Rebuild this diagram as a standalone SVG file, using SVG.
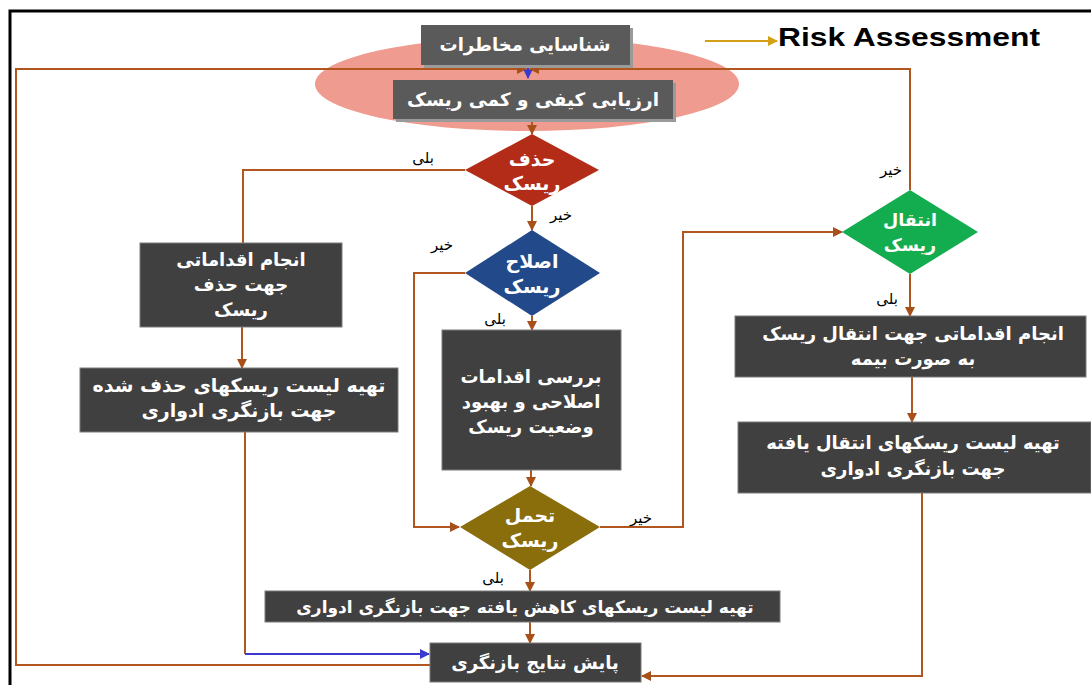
<svg xmlns="http://www.w3.org/2000/svg" width="1091" height="685" viewBox="0 0 1091 685">
<style>
.box{fill:#404040;stroke:#7a7a7a;stroke-width:1}
.gbox{fill:#5a5a5a}
.sh{fill:#9a9a9a}
.t{font-family:"DejaVu Sans",sans-serif;font-weight:bold;fill:#ffffff;text-anchor:middle}
.lbl{font-family:"DejaVu Sans",sans-serif;font-size:15px;fill:#000;text-anchor:middle}
.ln{fill:none;stroke:#B0561E;stroke-width:2}
.bl{fill:none;stroke:#3a3ad0;stroke-width:2}
</style>
<defs>
<marker id="ah" viewBox="0 0 10 10" refX="9" refY="5" markerWidth="5" markerHeight="5" orient="auto"><path d="M0,0 L10,5 L0,10 z" fill="#A8501A"/></marker>
<marker id="ahb" viewBox="0 0 10 10" refX="9" refY="5" markerWidth="5" markerHeight="5" orient="auto"><path d="M0,0 L10,5 L0,10 z" fill="#3a3ad0"/></marker>
<marker id="ahy" viewBox="0 0 10 10" refX="9" refY="5" markerWidth="5" markerHeight="5" orient="auto"><path d="M0,0 L10,5 L0,10 z" fill="#D4A017"/></marker>
</defs>
<rect x="0" y="0" width="1091" height="685" fill="#ffffff"/>
<path d="M10,685 L10,11 L1091,11" fill="none" stroke="#000" stroke-width="3"/>

<ellipse cx="527" cy="84" rx="212" ry="47" fill="#EF9B8F"/>

<g id="connectors">
<line class="bl" x1="528" y1="65" x2="528" y2="78" marker-end="url(#ahb)"/>
<path class="ln" d="M430,665 L16,665 L16,69 L526,69" marker-end="url(#ah)"/>
<path class="ln" d="M910,190 L910,69 L530,69" marker-end="url(#ah)"/>
<line x1="705" y1="41" x2="777" y2="41" stroke="#D4A017" stroke-width="2" marker-end="url(#ahy)"/>
<line class="ln" x1="532" y1="119" x2="532" y2="134" marker-end="url(#ah)"/>
<path class="ln" d="M465,170 L243,170 L243,243"/>
<line class="ln" x1="242" y1="327" x2="242" y2="368" marker-end="url(#ah)"/>
<path class="ln" d="M245,432 L245,654"/>
<line class="bl" x1="245" y1="654" x2="429" y2="654" marker-end="url(#ahb)"/>
<line class="ln" x1="532" y1="206" x2="532" y2="230" marker-end="url(#ah)"/>
<path class="ln" d="M465,273 L414,273 L414,527 L459,527" marker-end="url(#ah)"/>
<line class="ln" x1="532" y1="316" x2="532" y2="330" marker-end="url(#ah)"/>
<line class="ln" x1="531" y1="470" x2="531" y2="486" marker-end="url(#ah)"/>
<path class="ln" d="M600,527 L683,527 L683,232 L842,232" marker-end="url(#ah)"/>
<line class="ln" x1="530" y1="570" x2="530" y2="591" marker-end="url(#ah)"/>
<line class="ln" x1="530" y1="622" x2="530" y2="643" marker-end="url(#ah)"/>
<line class="ln" x1="910" y1="274" x2="910" y2="316" marker-end="url(#ah)"/>
<line class="ln" x1="912" y1="377" x2="912" y2="422" marker-end="url(#ah)"/>
<path class="ln" d="M922,493 L922,676 L642,676" marker-end="url(#ah)"/>
</g>

<g id="labels">
<text class="lbl" x="423" y="163">بلی</text>
<text class="lbl" x="561" y="220">خیر</text>
<text class="lbl" x="442" y="250">خیر</text>
<text class="lbl" x="495" y="324">بلی</text>
<text class="lbl" x="641" y="523">خیر</text>
<text class="lbl" x="493" y="583">بلی</text>
<text class="lbl" x="891" y="175">خیر</text>
<text class="lbl" x="887" y="304">بلی</text>
</g>

<g id="risk-assessment">
<text x="778" y="46" font-family="'Liberation Sans',Arial,sans-serif" font-weight="bold" font-size="25" fill="#000" textLength="262" lengthAdjust="spacingAndGlyphs">Risk Assessment</text>
</g>

<g id="n-identify">
<rect class="sh" x="424" y="28" width="209" height="40"/>
<rect class="gbox" x="421" y="25" width="209" height="40"/>
<text class="t" x="525" y="51" font-size="18">شناسایی مخاطرات</text>
</g>
<g id="n-evaluate">
<rect class="sh" x="396" y="83" width="280" height="39"/>
<rect class="gbox" x="393" y="80" width="280" height="39"/>
<text class="t" x="533" y="106" font-size="18.5">ارزیابی کیفی و کمی ریسک</text>
</g>

<g id="d-eliminate">
<polygon points="532,134 599,170 532,206 465,170" fill="#B22C18"/>
<text class="t" x="532" y="166" font-size="19">حذف</text>
<text class="t" x="532" y="190" font-size="19">ریسک</text>
</g>
<g id="n-elim-action">
<rect class="box" x="140" y="243" width="202" height="84"/>
<text class="t" x="241" y="266" font-size="18">انجام اقداماتی</text>
<text class="t" x="241" y="291" font-size="18">جهت حذف</text>
<text class="t" x="241" y="316" font-size="18">ریسک</text>
</g>
<g id="n-elim-list">
<rect class="box" x="80" y="368" width="318" height="64"/>
<text class="t" x="239" y="392" font-size="19">تهیه لیست ریسکهای حذف شده</text>
<text class="t" x="239" y="417" font-size="19">جهت بازنگری ادواری</text>
</g>

<g id="d-correct">
<polygon points="532,230 600,273 532,316 465,273" fill="#22498A"/>
<text class="t" x="532" y="268" font-size="19">اصلاح</text>
<text class="t" x="532" y="293" font-size="19">ریسک</text>
</g>
<g id="n-review">
<rect class="box" x="442" y="330" width="179" height="140"/>
<text class="t" x="531" y="383" font-size="18">بررسی اقدامات</text>
<text class="t" x="531" y="408" font-size="18">اصلاحی و بهبود</text>
<text class="t" x="531" y="433" font-size="18">وضعیت ریسک</text>
</g>

<g id="d-tolerate">
<polygon points="530,486 600,527 530,570 460,527" fill="#8A6E0C"/>
<text class="t" x="530" y="522" font-size="19">تحمل</text>
<text class="t" x="530" y="547" font-size="19">ریسک</text>
</g>
<g id="n-reduce-list">
<rect class="box" x="265" y="591" width="515" height="31"/>
<text class="t" x="525" y="613" font-size="17">تهیه لیست ریسکهای کاهش یافته جهت بازنگری ادواری</text>
</g>

<g id="d-transfer">
<polygon points="910,190 978,232 910,274 842,232" fill="#13AD4F"/>
<text class="t" x="910" y="226" font-size="17.5">انتقال</text>
<text class="t" x="910" y="251" font-size="17.5">ریسک</text>
</g>
<g id="n-transfer-action">
<rect class="box" x="735" y="316" width="351" height="61"/>
<text class="t" x="913" y="340" font-size="18">انجام اقداماتی جهت انتقال ریسک</text>
<text class="t" x="913" y="365" font-size="18">به صورت بیمه</text>
</g>
<g id="n-transfer-list">
<rect class="box" x="738" y="422" width="353" height="71"/>
<text class="t" x="913" y="449" font-size="18">تهیه لیست ریسکهای انتقال یافته</text>
<text class="t" x="913" y="475" font-size="18">جهت بازنگری ادواری</text>
</g>

<g id="n-monitor">
<rect class="box" x="430" y="643" width="211" height="39"/>
<text class="t" x="535" y="669" font-size="18">پایش نتایج بازنگری</text>
</g>
</svg>
